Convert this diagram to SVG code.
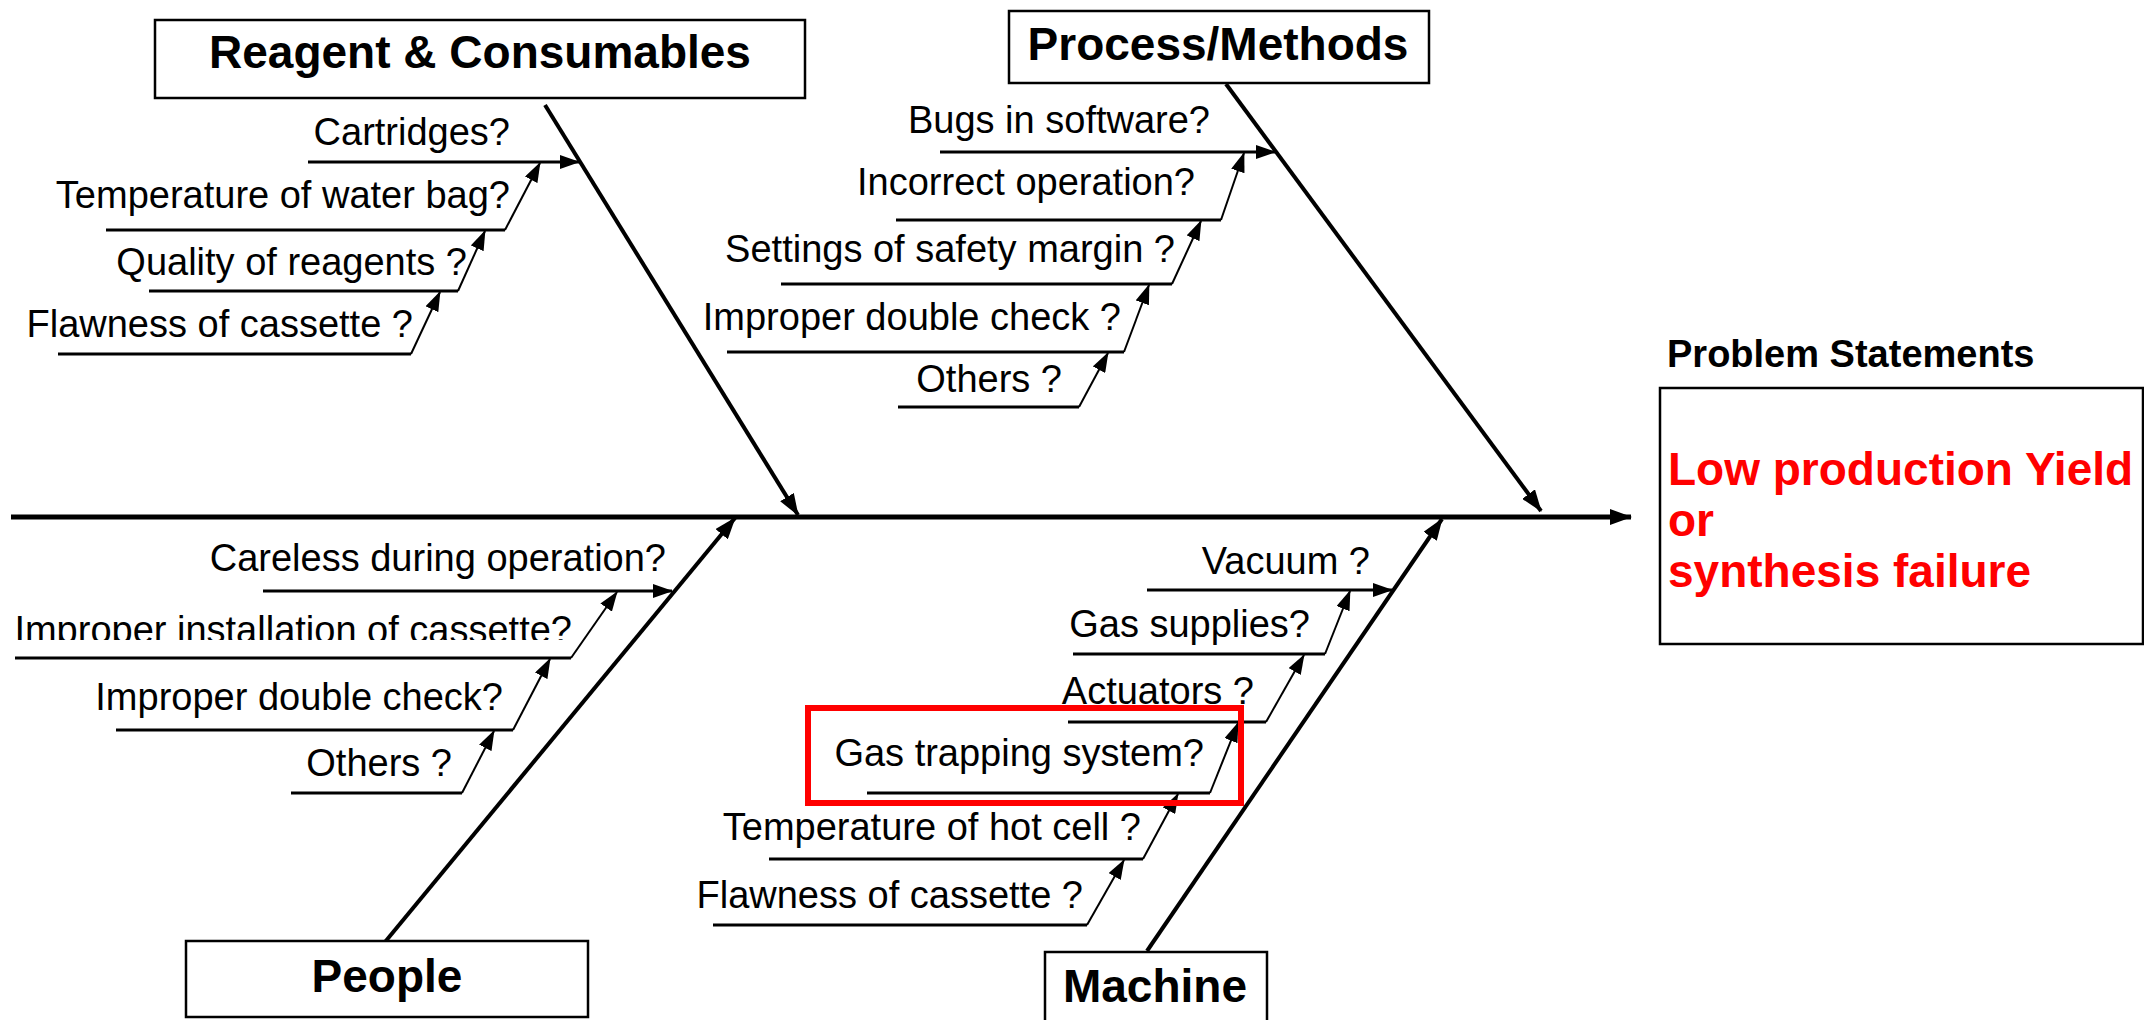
<svg xmlns="http://www.w3.org/2000/svg" width="2144" height="1020" viewBox="0 0 2144 1020">
<style>
.box{fill:#fff;stroke:#000;stroke-width:2.5}
.head{font-family:"Liberation Sans",Arial,sans-serif;font-weight:bold;font-size:46px;text-anchor:middle;fill:#000}
.cause{font-family:"Liberation Sans",Arial,sans-serif;font-size:38px;text-anchor:end;fill:#000}
.ps{font-family:"Liberation Sans",Arial,sans-serif;font-weight:bold;font-size:38px;fill:#000}
.red{font-family:"Liberation Sans",Arial,sans-serif;font-weight:bold;font-size:46px;fill:#ff0000}
.ln{stroke:#000;fill:none}
.spine{stroke-width:5}
.bone{stroke-width:4}
.sub{stroke-width:3}
.diag{stroke-width:2}
</style>
<defs>
<marker id="ah" markerUnits="userSpaceOnUse" markerWidth="22" markerHeight="16" refX="21" refY="8" orient="auto">
<path d="M0,0 L22,8 L0,16 z" fill="#000"/>
</marker>
<marker id="as" markerUnits="userSpaceOnUse" markerWidth="20" markerHeight="14" refX="19" refY="7" orient="auto">
<path d="M0,0 L20,7 L0,14 z" fill="#000"/>
</marker>
<clipPath id="clipInst"><rect x="0" y="560" width="700" height="80"/></clipPath>
</defs>

<g id="connectors">
<line class="ln spine" x1="11" y1="517" x2="1631" y2="517" marker-end="url(#ah)"/>
<line class="ln bone" x1="545" y1="105" x2="798" y2="515" marker-end="url(#ah)"/>
<line class="ln bone" x1="1226" y1="84" x2="1541" y2="511" marker-end="url(#ah)"/>
<line class="ln bone" x1="385" y1="942" x2="735" y2="518" marker-end="url(#ah)"/>
<line class="ln bone" x1="1147" y1="951" x2="1442" y2="519" marker-end="url(#ah)"/>

<line class="ln sub" x1="308" y1="162" x2="579" y2="162" marker-end="url(#as)"/>
<line class="ln sub" x1="106" y1="230" x2="505" y2="230"/>
<line class="ln diag" x1="505" y1="230" x2="540" y2="163" marker-end="url(#as)"/>
<line class="ln sub" x1="149" y1="291" x2="458" y2="291"/>
<line class="ln diag" x1="458" y1="291" x2="485" y2="231" marker-end="url(#as)"/>
<line class="ln sub" x1="58" y1="354" x2="411" y2="354"/>
<line class="ln diag" x1="411" y1="354" x2="440" y2="292" marker-end="url(#as)"/>

<line class="ln sub" x1="940" y1="152" x2="1275" y2="152" marker-end="url(#as)"/>
<line class="ln sub" x1="896" y1="220" x2="1221" y2="220"/>
<line class="ln diag" x1="1221" y1="220" x2="1244" y2="153" marker-end="url(#as)"/>
<line class="ln sub" x1="781" y1="284" x2="1172" y2="284"/>
<line class="ln diag" x1="1172" y1="284" x2="1201" y2="221" marker-end="url(#as)"/>
<line class="ln sub" x1="727" y1="352" x2="1124" y2="352"/>
<line class="ln diag" x1="1124" y1="352" x2="1149" y2="285" marker-end="url(#as)"/>
<line class="ln sub" x1="898" y1="407" x2="1079" y2="407"/>
<line class="ln diag" x1="1079" y1="407" x2="1108" y2="353" marker-end="url(#as)"/>

<line class="ln sub" x1="263" y1="591" x2="672" y2="591" marker-end="url(#as)"/>
<line class="ln sub" x1="15" y1="658" x2="571" y2="658"/>
<line class="ln diag" x1="571" y1="658" x2="617" y2="592" marker-end="url(#as)"/>
<line class="ln sub" x1="116" y1="730" x2="513" y2="730"/>
<line class="ln diag" x1="513" y1="730" x2="550" y2="659" marker-end="url(#as)"/>
<line class="ln sub" x1="291" y1="793" x2="462" y2="793"/>
<line class="ln diag" x1="462" y1="793" x2="494" y2="731" marker-end="url(#as)"/>

<line class="ln sub" x1="1147" y1="590" x2="1392" y2="590" marker-end="url(#as)"/>
<line class="ln sub" x1="1073" y1="654" x2="1325" y2="654"/>
<line class="ln diag" x1="1325" y1="654" x2="1350" y2="591" marker-end="url(#as)"/>
<line class="ln sub" x1="1068" y1="722" x2="1266" y2="722"/>
<line class="ln diag" x1="1266" y1="722" x2="1304" y2="655" marker-end="url(#as)"/>
<line class="ln sub" x1="867" y1="793" x2="1210" y2="793"/>
<line class="ln diag" x1="1210" y1="793" x2="1238" y2="723" marker-end="url(#as)"/>
<line class="ln sub" x1="769" y1="859" x2="1143" y2="859"/>
<line class="ln diag" x1="1143" y1="859" x2="1178" y2="794" marker-end="url(#as)"/>
<line class="ln sub" x1="713" y1="925" x2="1087" y2="925"/>
<line class="ln diag" x1="1087" y1="925" x2="1124" y2="860" marker-end="url(#as)"/>
</g>

<g id="cat-reagent">
<rect class="box" x="155" y="20" width="650" height="78"/>
<text class="head" x="480" y="68">Reagent &amp; Consumables</text>
</g>
<g id="cat-process">
<rect class="box" x="1009" y="11" width="420" height="72"/>
<text class="head" x="1218" y="60">Process/Methods</text>
</g>
<g id="cat-people">
<rect class="box" x="186" y="941" width="402" height="76"/>
<text class="head" x="387" y="992">People</text>
</g>
<g id="cat-machine">
<rect class="box" x="1045" y="952" width="222" height="80"/>
<text class="head" x="1155" y="1002">Machine</text>
</g>

<g id="causes-reagent">
<text class="cause" x="510" y="145">Cartridges?</text>
<text class="cause" x="510" y="208">Temperature of water bag?</text>
<text class="cause" x="467" y="275">Quality of reagents ?</text>
<text class="cause" x="413" y="337">Flawness of cassette ?</text>
</g>
<g id="causes-process">
<text class="cause" x="1210" y="133">Bugs in software?</text>
<text class="cause" x="1195" y="195">Incorrect operation?</text>
<text class="cause" x="1175" y="262">Settings of safety margin ?</text>
<text class="cause" x="1121" y="330">Improper double check ?</text>
<text class="cause" x="1062" y="392">Others ?</text>
</g>
<g id="causes-people">
<text class="cause" x="666" y="571">Careless during operation?</text>
<text class="cause" x="572" y="643" clip-path="url(#clipInst)">Improper installation of cassette?</text>
<text class="cause" x="503" y="710">Improper double check?</text>
<text class="cause" x="452" y="776">Others ?</text>
</g>
<g id="causes-machine">
<text class="cause" x="1370" y="574">Vacuum ?</text>
<text class="cause" x="1310" y="637">Gas supplies?</text>
<text class="cause" x="1254" y="704">Actuators ?</text>
<text class="cause" x="1204" y="766">Gas trapping system?</text>
<text class="cause" x="1141" y="840">Temperature of hot cell ?</text>
<text class="cause" x="1083" y="908">Flawness of cassette ?</text>
</g>
<g id="highlight">
<rect x="808" y="708" width="433" height="95" fill="none" stroke="#ff0000" stroke-width="6"/>
</g>

<g id="problem">
<text class="ps" x="1667" y="367">Problem Statements</text>
<rect class="box" x="1660" y="388" width="483" height="256"/>
<text class="red" x="1668" y="485">Low production Yield</text>
<text class="red" x="1668" y="536">or</text>
<text class="red" x="1668" y="587">synthesis failure</text>
</g>
</svg>
